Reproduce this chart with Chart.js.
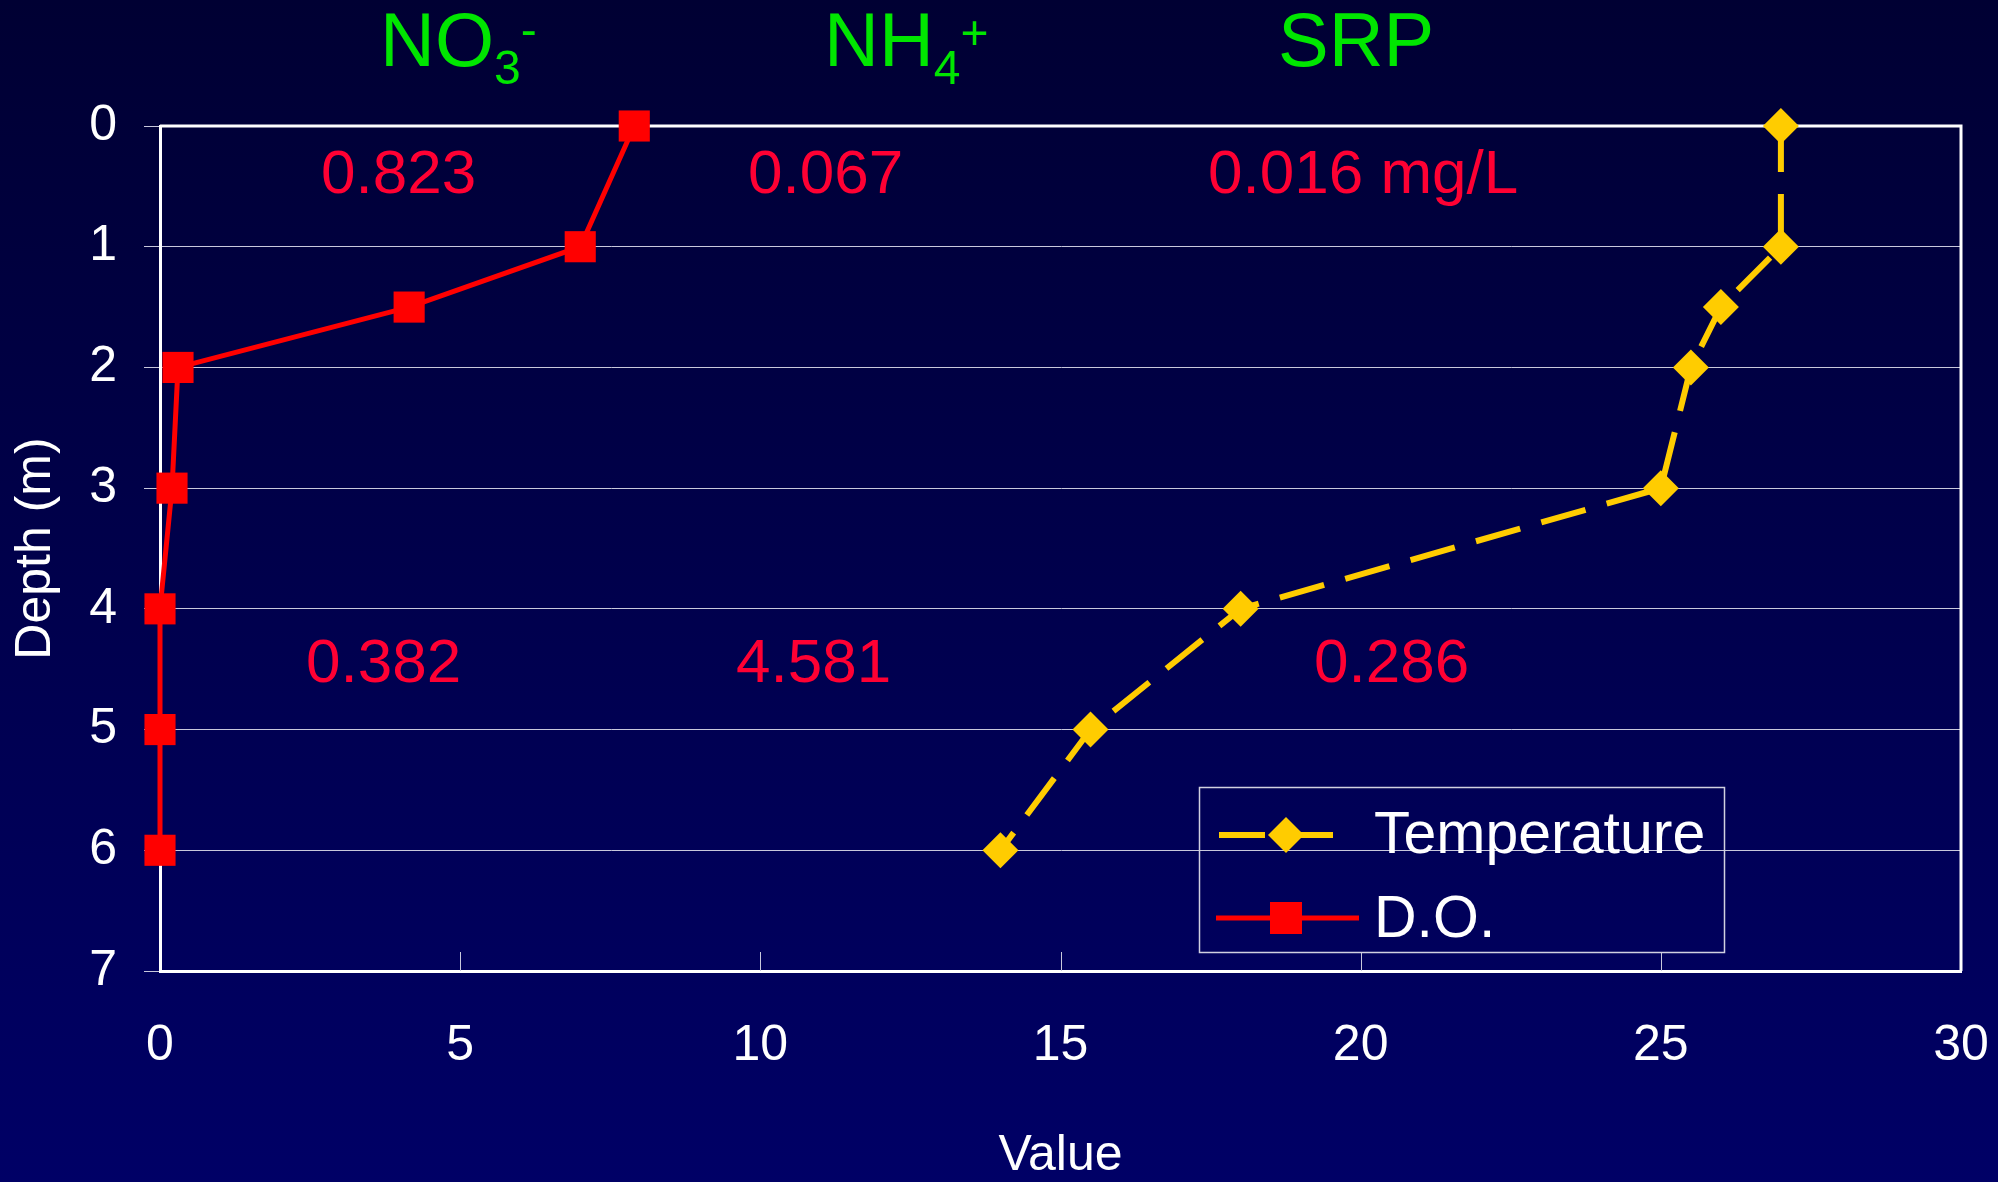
<!DOCTYPE html>
<html>
<head>
<meta charset="utf-8">
<script src="https://cdn.jsdelivr.net/npm/chart.js@4.4.0/dist/chart.umd.min.js"></script>
<style>
  html, body { margin: 0; padding: 0; overflow: hidden; }
  #wrap {
    width: 1998px; height: 1182px; position: relative;
    background: linear-gradient(to bottom, #000033 0%, #00004a 45%, #000066 100%);
  }
</style>
</head>
<body>
<div id="wrap"><canvas id="myChart"></canvas></div>
<script>
// depth (m) down the profile
var depthTemp = [0, 1, 1.5, 2, 3, 4, 5, 6];
var tempValues = [27, 27, 26, 25.5, 25, 18, 15.5, 14];
var depthDO = [0, 1, 1.5, 2, 3, 4, 5, 6];
var doValues = [7.9, 7.0, 4.15, 0.3, 0.2, 0, 0, 0];

var seriesNames = ["Temperature", "D.O."];
var xTicks = [0, 5, 10, 15, 20, 25, 30];
var yTicks = [0, 1, 2, 3, 4, 5, 6, 7];

// nutrient labels: top row = surface, bottom row = bottom water
var topValues = ["0.823", "0.067", "0.016 mg/L"];
var bottomValues = ["0.382", "4.581", "0.286"];

const FONT = "'Liberation Sans', Arial, sans-serif";

function toPoints(xs, ys){
    return xs.map((v, i) => ({x: v, y: ys[i]}));
}

const overlay = {
    id: "overlay",
    beforeDatasetsDraw(chart){
        const ctx = chart.ctx;
        const a = chart.chartArea;
        const xs = chart.scales.x;
        ctx.save();
        // small inside ticks on the bottom axis
        ctx.strokeStyle = "#c8c8dc";
        ctx.lineWidth = 1;
        xTicks.slice(1, -1).forEach(t => {
            const px = Math.round(xs.getPixelForValue(t)) + 0.5;
            ctx.beginPath();
            ctx.moveTo(px, a.bottom);
            ctx.lineTo(px, a.bottom - 19);
            ctx.stroke();
        });
        // frame
        ctx.strokeStyle = "#ffffff";
        ctx.lineWidth = 3;
        ctx.beginPath();
        ctx.moveTo(a.left, a.top);
        ctx.lineTo(a.right, a.top);
        ctx.lineTo(a.right, a.bottom);
        ctx.stroke();
        ctx.restore();
    },
    afterDraw(chart){
        const ctx = chart.ctx;
        ctx.save();
        ctx.textBaseline = "alphabetic";
        ctx.textAlign = "left";

        // green headers with sub/superscripts
        ctx.fillStyle = "#00e600";
        ctx.font = "76px " + FONT;
        ctx.fillText("NO", 380, 66);
        let w = ctx.measureText("NO").width;
        ctx.font = "48px " + FONT;
        ctx.fillText("3", 380 + w, 84);
        let w3 = ctx.measureText("3").width;
        ctx.fillText("-", 380 + w + w3, 46);

        ctx.font = "76px " + FONT;
        ctx.fillText("NH", 824, 66);
        w = ctx.measureText("NH").width;
        ctx.font = "48px " + FONT;
        ctx.fillText("4", 824 + w, 84);
        w3 = ctx.measureText("4").width;
        ctx.fillText("+", 824 + w + w3, 49);

        ctx.font = "76px " + FONT;
        ctx.fillText("SRP", 1278, 66);

        // red concentrations
        ctx.fillStyle = "#ff0033";
        ctx.font = "62px " + FONT;
        const topX = [321, 748, 1208];
        const botX = [306, 736, 1314];
        topValues.forEach((t, i) => ctx.fillText(t, topX[i], 193));
        bottomValues.forEach((t, i) => ctx.fillText(t, botX[i], 682));

        // legend box
        const lx = 1199, ly = 787, lw = 525, lh = 165;
        ctx.strokeStyle = "#d0d0e0";
        ctx.lineWidth = 1.5;
        ctx.strokeRect(lx + 0.5, ly + 0.5, lw, lh);

        const rows = [
            {ds: chart.data.datasets[0], y: 835, x0: 1219, x1: 1337},
            {ds: chart.data.datasets[1], y: 918, x0: 1216, x1: 1359}
        ];
        rows.forEach(r => {
            const ds = r.ds;
            ctx.strokeStyle = ds.borderColor;
            ctx.lineWidth = ds.borderWidth;
            ctx.setLineDash(ds.borderDash || []);
            ctx.beginPath();
            ctx.moveTo(r.x0, r.y);
            ctx.lineTo(r.x1, r.y);
            ctx.stroke();
            ctx.setLineDash([]);
            ctx.fillStyle = ds.pointBackgroundColor;
            ctx.beginPath();
            const cx = 1286;
            if (ds.pointStyle === "rect") {
                const s = 16;
                ctx.rect(cx - s, r.y - s, 2 * s, 2 * s);
            } else {
                const s = 18;
                ctx.moveTo(cx - s, r.y);
                ctx.lineTo(cx, r.y - s);
                ctx.lineTo(cx + s, r.y);
                ctx.lineTo(cx, r.y + s);
                ctx.closePath();
            }
            ctx.fill();
        });
        ctx.fillStyle = "#ffffff";
        ctx.font = "59px " + FONT;
        ctx.fillText(seriesNames[0], 1374, 853);
        ctx.fillText(seriesNames[1], 1374, 937);
        ctx.restore();
    }
};

const data = {
    datasets: [
    {
        label: seriesNames[0],
        data: toPoints(tempValues, depthTemp),
        showLine: true,
        borderColor: "#ffcc00",
        backgroundColor: "#ffcc00",
        pointBackgroundColor: "#ffcc00",
        borderWidth: 6,
        borderDash: [46, 22],
        pointStyle: "rectRot",
        pointRadius: 18,
        pointBorderWidth: 0,
        clip: false
    },
    {
        label: seriesNames[1],
        data: toPoints(doValues, depthDO),
        showLine: true,
        borderColor: "#ff0000",
        backgroundColor: "#ff0000",
        pointBackgroundColor: "#ff0000",
        borderWidth: 5,
        pointStyle: "rect",
        pointRadius: 22,
        pointBorderWidth: 0,
        clip: false
    }]
};

const config = {
    type: "scatter",
    data: data,
    plugins: [overlay],
    options: {
        responsive: true,
        maintainAspectRatio: false,
        animation: false,
        layout: {
            padding: {top: 126, right: 37, left: 0, bottom: 0}
        },
        plugins: {
            legend: {display: false},
            tooltip: {enabled: false}
        },
        scales: {
            x: {
                type: "linear",
                min: 0,
                max: 30,
                afterBuildTicks: s => { s.ticks = xTicks.map(v => ({value: v})); },
                afterFit: s => { s.height = 211; s.paddingLeft = 0; s.paddingRight = 0; },
                grid: {display: true, drawOnChartArea: false, drawTicks: false},
                border: {color: "#ffffff", width: 3},
                ticks: {
                    color: "#ffffff",
                    padding: 45,
                    font: {family: FONT, size: 50}
                },
                title: {
                    display: true,
                    text: "Value",
                    color: "#ffffff",
                    padding: {top: 0, bottom: -4},
                    font: {family: FONT, size: 50}
                }
            },
            y: {
                type: "linear",
                reverse: true,
                min: 0,
                max: 7,
                afterBuildTicks: s => { s.ticks = yTicks.map(v => ({value: v})); },
                afterFit: s => { s.width = 160; s.paddingTop = 0; s.paddingBottom = 0; },
                grid: {
                    color: "#c8c8dc",
                    lineWidth: 1,
                    tickLength: 16,
                    tickColor: "#c8c8dc"
                },
                border: {color: "#ffffff", width: 3},
                ticks: {
                    color: "#ffffff",
                    padding: 27,
                    font: {family: FONT, size: 50}
                },
                title: {
                    display: true,
                    text: "Depth (m)",
                    color: "#ffffff",
                    padding: {top: 6, bottom: 0},
                    font: {family: FONT, size: 50}
                }
            }
        }
    }
};

const myChart = new Chart(document.getElementById("myChart").getContext("2d"), config);
</script>
</body>
</html>
